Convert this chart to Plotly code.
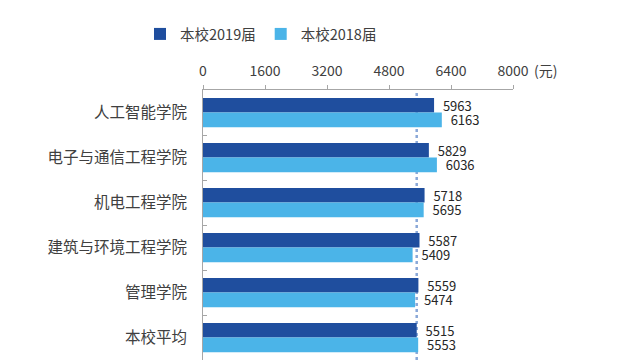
import plotly.graph_objects as go

categories = ["人工智能学院", "电子与通信工程学院", "机电工程学院", "建筑与环境工程学院", "管理学院", "本校平均"]
series_names = ["本校2019届", "本校2018届"]
values_2019 = [5963, 5829, 5718, 5587, 5559, 5515]
values_2018 = [6163, 6036, 5695, 5409, 5474, 5553]
tick_vals = [0, 1600, 3200, 4800, 6400, 8000]
colors = ["#1F4E9E", "#4BB4E8"]

FONT = "Noto Sans CJK SC"
PAD = "\u00a0\u00a0"

fig = go.Figure()
for name, vals, col in zip(series_names, [values_2019, values_2018], colors):
    fig.add_trace(go.Bar(
        y=categories, x=vals, name=name, orientation="h",
        marker=dict(color=col, line=dict(width=0)),
        text=[PAD + str(v) for v in vals], textposition="outside",
        constraintext="none",
        textfont=dict(size=13, color="#262626", family=FONT),
        cliponaxis=False,
    ))

avg = values_2019[-1]
fig.add_shape(type="line", xref="x", yref="paper", x0=avg, x1=avg, y0=0, y1=1,
              layer="below",
              line=dict(color="#8AA8D8", width=2.5, dash="dot"))

fig.add_annotation(text="(元)", xref="paper", yref="paper", x=1.0, y=1.0,
                   xshift=19, yshift=20, xanchor="left", yanchor="middle",
                   showarrow=False, font=dict(size=14, color="#404040", family=FONT))

fig.update_layout(
    width=640, height=363,
    margin=dict(l=203, r=127, t=90, b=3, autoexpand=False),
    paper_bgcolor="white", plot_bgcolor="white",
    barmode="group", bargap=0.35, bargroupgap=0,
    font=dict(family=FONT, color="#404040", size=14),
    showlegend=True,
    legend=dict(orientation="h", xref="container", yref="container",
                x=140 / 640, y=1 - 34 / 363, xanchor="left", yanchor="middle",
                font=dict(size=14.5, color="#404040", family=FONT),
                itemwidth=30, traceorder="normal"),
    xaxis=dict(side="top", range=[0, 8000], tickvals=tick_vals,
               ticks="outside", ticklen=4, tickcolor="#A6A6A6",
               showline=True, linecolor="#A6A6A6", linewidth=1,
               showgrid=False, zeroline=False, automargin=False,
               ticklabelstandoff=3,
               tickfont=dict(size=14, color="#404040", family=FONT)),
    yaxis=dict(autorange="reversed", type="category",
               ticks="inside", tickson="boundaries", ticklen=4, tickcolor="#A6A6A6",
               showline=True, linecolor="#A6A6A6", linewidth=1,
               showgrid=False, zeroline=False, ticklabelstandoff=12, automargin=False,
               tickfont=dict(size=15.5, color="#404040", family=FONT)),
)

fig.write_html("out.html", config={"displayModeBar": False},
               post_script="document.body.style.margin='0';")
